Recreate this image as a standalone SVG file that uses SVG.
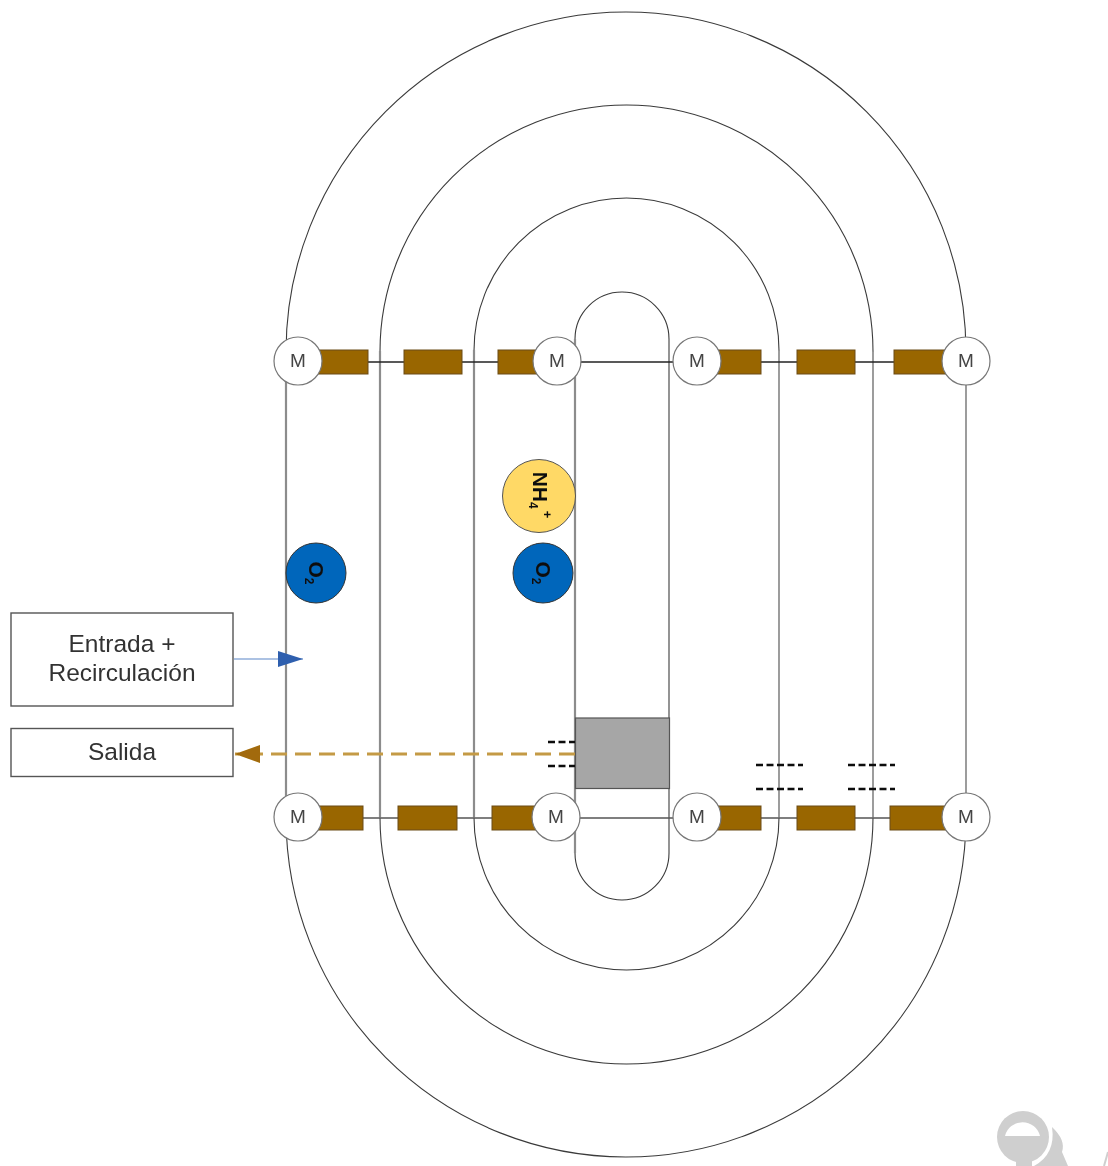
<svg xmlns="http://www.w3.org/2000/svg" width="1108" height="1166" viewBox="0 0 1108 1166">
<style>
text{font-family:"Liberation Sans",Arial,sans-serif;fill:#333;text-anchor:middle}
.arc{fill:none;stroke:#3a3a3a;stroke-width:1.1}
.wall{fill:none;stroke:#8c8c8c;stroke-width:2.2}
.wall2{fill:none;stroke:#8c8c8c;stroke-width:1.7}
.blade{fill:#996600;stroke:#6b4a10;stroke-width:1}
.shaft{stroke:#222;stroke-width:1.4;fill:none}
.shaftb{stroke:#555;stroke-width:1.3;fill:none}
.motor{fill:#fff;stroke:#777;stroke-width:1.2}
.mt{font-size:19px;fill:#444}
.box{fill:#fff;stroke:#555;stroke-width:1.4}
.lab{font-size:24.5px}
.o2{fill:#0066bb;stroke:#333;stroke-width:1}
.chem{font-weight:bold;fill:#111}
.dash{stroke:#111;stroke-width:2.6;stroke-dasharray:7 3.5;fill:none}
</style>
<defs>
<filter id="soft" x="-5%" y="-5%" width="110%" height="110%"><feGaussianBlur stdDeviation="0.75"/></filter>
<marker id="hb" markerUnits="userSpaceOnUse" markerWidth="26" markerHeight="18" refX="25" refY="8" orient="auto"><path d="M0 0L25 8L0 16Z" fill="#2e5fae"/></marker>
<marker id="hs" markerUnits="userSpaceOnUse" markerWidth="26" markerHeight="18" refX="25" refY="9" orient="auto"><path d="M0 0L25 9L0 18Z" fill="#a26b08"/></marker>
</defs>
<rect width="1108" height="1166" fill="#fff"/>
<g filter="url(#soft)">
<g id="channels">
<path class="arc" d="M286 352A340 340 0 0 1 966 352M286 817A340 340 0 0 0 966 817"/>
<path class="arc" d="M380 351.500A246.500 246.500 0 0 1 873 351.500M380 817.500A246.500 246.500 0 0 0 873 817.500"/>
<path class="arc" d="M474 350.500A152.500 152.500 0 0 1 779 350.500M474 817.500A152.500 152.500 0 0 0 779 817.500"/>
<path class="arc" d="M575 339A47 47 0 0 1 669 339M575 853A47 47 0 0 0 669 853"/>
<path class="wall" d="M286 352V817M380 351V817M474 350V817M575 339V853"/>
<path class="wall2" d="M779 350V817M873 351V817M966 352V817"/>
<path class="arc" d="M669 339V853"/>
</g>
<g id="clarifier"><rect x="575.500" y="718" width="94" height="70.500" fill="#a6a6a6" stroke="#555" stroke-width="1.2"/></g>
<g id="connectors">
<path class="shaft" d="M298 362H966"/>
<path class="shaftb" d="M298 818H966"/>
<path d="M234 659H303" fill="none" stroke="#5a86c8" stroke-width="1.2" marker-end="url(#hb)"/>
<path d="M575 754H235" fill="none" stroke="#c49a45" stroke-width="2.8" stroke-dasharray="16 8" marker-end="url(#hs)"/>
<path class="dash" d="M548 742H575M548 766H575M756 765H803M756 789H803M848 765H895M848 789H895"/>
</g>
<g id="blades-top">
<rect class="blade" x="318" y="350" width="50" height="24"/><rect class="blade" x="404" y="350" width="58" height="24"/><rect class="blade" x="498" y="350" width="44" height="24"/>
<rect class="blade" x="715" y="350" width="46" height="24"/><rect class="blade" x="797" y="350" width="58" height="24"/><rect class="blade" x="894" y="350" width="54" height="24"/>
</g>
<g id="blades-bottom">
<rect class="blade" x="316" y="806" width="47" height="24"/><rect class="blade" x="398" y="806" width="59" height="24"/><rect class="blade" x="492" y="806" width="50" height="24"/>
<rect class="blade" x="715" y="806" width="46" height="24"/><rect class="blade" x="797" y="806" width="58" height="24"/><rect class="blade" x="890" y="806" width="58" height="24"/>
</g>
<g id="motor-t1"><circle class="motor" cx="298" cy="361" r="24"/><text class="mt" x="298" y="367">M</text></g>
<g id="motor-t2"><circle class="motor" cx="557" cy="361" r="24"/><text class="mt" x="557" y="367">M</text></g>
<g id="motor-t3"><circle class="motor" cx="697" cy="361" r="24"/><text class="mt" x="697" y="367">M</text></g>
<g id="motor-t4"><circle class="motor" cx="966" cy="361" r="24"/><text class="mt" x="966" y="367">M</text></g>
<g id="motor-b1"><circle class="motor" cx="298" cy="817" r="24"/><text class="mt" x="298" y="823">M</text></g>
<g id="motor-b2"><circle class="motor" cx="556" cy="817" r="24"/><text class="mt" x="556" y="823">M</text></g>
<g id="motor-b3"><circle class="motor" cx="697" cy="817" r="24"/><text class="mt" x="697" y="823">M</text></g>
<g id="motor-b4"><circle class="motor" cx="966" cy="817" r="24"/><text class="mt" x="966" y="823">M</text></g>
<g id="nh4"><circle cx="539" cy="496" r="36.500" fill="#ffd966" stroke="#555" stroke-width="1"/>
<text class="chem" font-size="21" transform="translate(533 495) rotate(90)">NH<tspan font-size="12" dy="4">4</tspan><tspan font-size="13" dx="2" dy="-14">+</tspan></text></g>
<g id="o2-a"><circle class="o2" cx="316" cy="573" r="30"/><text class="chem" font-size="21" transform="translate(309 573) rotate(90)">O<tspan font-size="12" dy="4">2</tspan></text></g>
<g id="o2-b"><circle class="o2" cx="543" cy="573" r="30"/><text class="chem" font-size="21" transform="translate(536 573) rotate(90)">O<tspan font-size="12" dy="4">2</tspan></text></g>
<g id="entrada"><rect class="box" x="11" y="613" width="222" height="93"/><text class="lab" x="122" y="652">Entrada +</text><text class="lab" x="122" y="681">Recirculación</text></g>
<g id="salida"><rect class="box" x="11" y="728.500" width="222" height="48"/><text class="lab" x="122" y="760">Salida</text></g>
</g>
<g id="watermark" filter="url(#soft)">
<circle cx="1023" cy="1137" r="26" fill="#cfcfcf"/>
<path d="M1005 1136A18 18 0 0 1 1040 1136Z" fill="#fff"/>
<rect x="1016" y="1158" width="16" height="8" fill="#cfcfcf"/>
<path d="M1052 1127Q1066 1140 1062 1152L1068 1166H1034Q1056 1154 1052 1127Z" fill="#cfcfcf"/>
<path d="M1104 1166L1108 1152" stroke="#cfcfcf" stroke-width="2" fill="none"/>
</g>
</svg>
